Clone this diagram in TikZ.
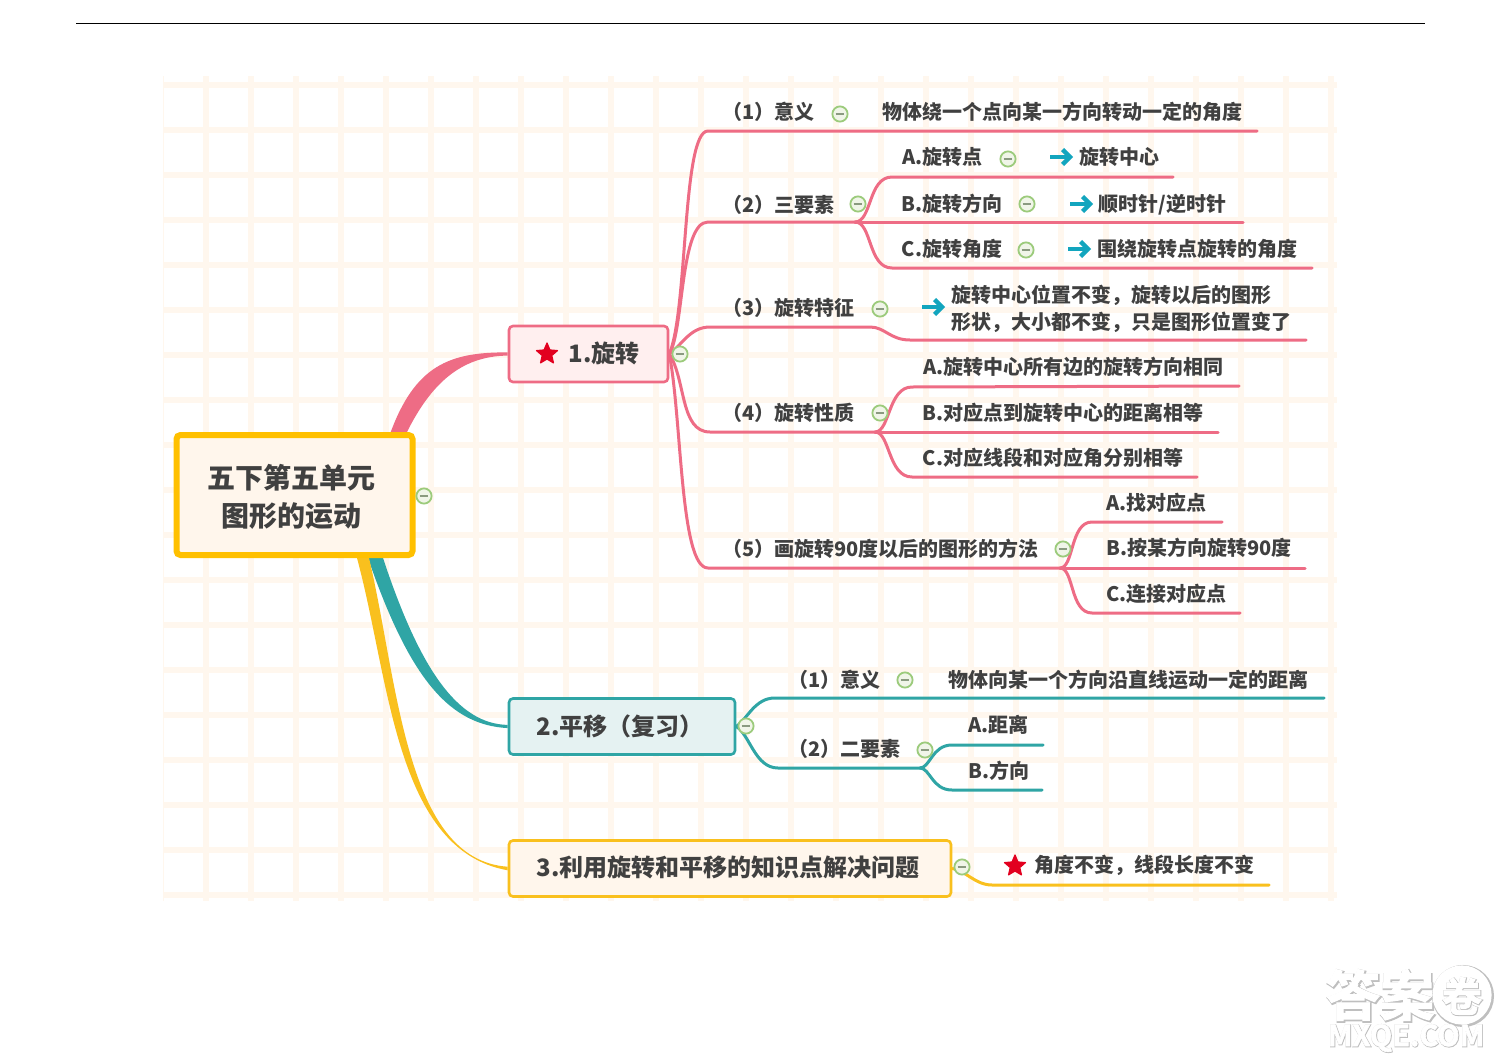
\documentclass[tikz,border=0pt]{standalone}
\usepackage{fontspec}
\setmainfont{Noto Sans CJK SC}
\newfontfamily\wmheavy[FakeBold=5]{Noto Sans CJK SC Bold}
\newfontfamily\wmlight[FakeBold=2]{Noto Sans CJK SC Bold}
\usetikzlibrary{shapes.geometric,calc}
\definecolor{cream}{HTML}{FFF7EE}
\definecolor{boxcream}{HTML}{FFF6EC}
\definecolor{ink}{HTML}{404040}
\definecolor{pinkc}{HTML}{EE6C85}
\definecolor{tealc}{HTML}{2FA5A5}
\definecolor{yellc}{HTML}{F9C01E}
\definecolor{rootc}{HTML}{FFC000}
\definecolor{arrowc}{HTML}{12A5BE}
\definecolor{starc}{HTML}{E2001F}
\definecolor{foldb}{HTML}{9CCB7C}
\definecolor{foldf}{HTML}{F0F5E8}
\definecolor{foldm}{HTML}{8A9A80}
\pgfdeclarelayer{conn}
\pgfsetlayers{conn,main}
\tikzset{
  leaf/.style={anchor=west,inner sep=0pt,text=ink,font=\fontsize{10pt}{13.5pt}\selectfont\bfseries},
  topic/.style={anchor=west,inner sep=0pt,text=ink,font=\fontsize{12pt}{15pt}\selectfont\bfseries},
  boxn/.style={draw,rounded corners=2pt,line width=1.3pt,inner sep=0pt},
  pinkl/.style={draw=pinkc,line width=1.5pt,line cap=round},
  teall/.style={draw=tealc,line width=1.5pt,line cap=round},
  yelll/.style={draw=yellc,line width=1.5pt,line cap=round},
  foldn/.style={circle,draw=foldb,fill=foldf,line width=.9pt,minimum size=7.6pt,inner sep=0pt,
    path picture={\draw[foldm,line width=.8pt] ([xshift=-2.2pt]path picture bounding box.center) -- ([xshift=2.2pt]path picture bounding box.center);}},
  starn/.style={star,star points=5,star point ratio=2.2,fill=starc,draw=starc,line join=round,line width=.6pt,minimum size=11pt,inner sep=0pt},
  arrowicon/.pic={
    \draw[arrowc,line width=2.1pt] (-11,0) -- (6,0);
    \draw[arrowc,line width=2.2pt] (1.5,-7.5) -- (9,0) -- (1.5,7.5);
  }
}
\begin{document}
\begin{tikzpicture}[x=0.5pt,y=-0.5pt]
\useasboundingbox (0,0) rectangle (1500,1060);
\begin{pgfonlayer}{conn}
  \fill[white] (0,0) rectangle (1500,1060);
  \begin{scope}
    \clip (163,76) rectangle (1337,901);
    \foreach \gx in {0,...,26} \draw[cream,line width=3.4pt] ({161+45*\gx},76) -- ({161+45*\gx},901);
    \foreach \gy in {0,...,18} \draw[cream,line width=3.4pt] (163,{85+45*\gy}) -- (1337,{85+45*\gy});
  \end{scope}
  \draw[black,line width=.8pt] (76,23.5) -- (1425,23.5);
\end{pgfonlayer}

% main boxes
\node[boxn,draw=rootc,fill=boxcream,line width=3pt,minimum width=118pt,minimum height=60pt] (root) at (294.5,495) {};
\node[inner sep=0pt,align=center,text=ink,font=\fontsize{14pt}{19pt}\selectfont\bfseries] (rootx) at (291.5,497) {五下第五单元\\图形的运动};
\node[boxn,draw=pinkc,fill=pink!25!white,minimum width=79.5pt,minimum height=28pt] (t1) at (588.5,354) {};
\node[boxn,draw=tealc,fill=teal!10!white,minimum width=113pt,minimum height=28pt] (t2) at (622,726.5) {};
\node[boxn,draw=yellc,fill=boxcream,minimum width=221pt,minimum height=28pt] (t3) at (730,868.5) {};
\node[starn] (s1) at (547,354) {};
\node[topic] (t1x) at (568,353) {1.旋转};
\node[topic] (t2x) at (536,726) {2.平移（复习）};
\node[topic] (t3x) at (536,867) {3.利用旋转和平移的知识点解决问题};

% folds
\node[foldn] (f0) at (424,496) {};
\node[foldn] (f1) at (680,354) {};
\node[foldn] (f11) at (840,114) {};
\node[foldn] (f12) at (858,204) {};
\node[foldn] (f12a) at (1008,159) {};
\node[foldn] (f12b) at (1027,204) {};
\node[foldn] (f12c) at (1026,250) {};
\node[foldn] (f13) at (880,309) {};
\node[foldn] (f14) at (880,413) {};
\node[foldn] (f15) at (1063,549) {};
\node[foldn] (f2) at (746,726) {};
\node[foldn] (f21) at (905,680) {};
\node[foldn] (f22) at (925,750) {};
\node[foldn] (f3) at (962,867) {};

% texts of branch 1
\node[leaf] (a1) at (722,112) {（1）意义};
\node[leaf] (a1x) at (882,112) {物体绕一个点向某一方向转动一定的角度};
\node[leaf] (a2) at (722,205) {（2）三要素};
\node[leaf] (a2a) at (902,157) {A.旋转点};
\node[leaf] (a2ax) at (1079,157) {旋转中心};
\node[leaf] (a2b) at (901.5,204) {B.旋转方向};
\node[leaf] (a2bx) at (1098,205) {顺时针/逆时针};
\node[leaf] (a2c) at (901.5,249) {C.旋转角度};
\node[leaf] (a2cx) at (1097,249) {围绕旋转点旋转的角度};
\node[leaf] (a3) at (722,308) {（3）旋转特征};
\node[leaf,align=left] (a3x) at (951,309) {旋转中心位置不变，旋转以后的图形\\形状，大小都不变，只是图形位置变了};
\node[leaf] (a4) at (722,413) {（4）旋转性质};
\node[leaf] (a4a) at (923,367) {A.旋转中心所有边的旋转方向相同};
\node[leaf] (a4b) at (922.5,413) {B.对应点到旋转中心的距离相等};
\node[leaf] (a4c) at (922.5,458) {C.对应线段和对应角分别相等};
\node[leaf] (a5) at (722,549) {（5）画旋转90度以后的图形的方法};
\node[leaf] (a5a) at (1106,503) {A.找对应点};
\node[leaf] (a5b) at (1106,548) {B.按某方向旋转90度};
\node[leaf] (a5c) at (1106,594) {C.连接对应点};
% branch 2
\node[leaf] (b1) at (788,680) {（1）意义};
\node[leaf] (b1x) at (948,680) {物体向某一个方向沿直线运动一定的距离};
\node[leaf] (b2) at (788,749) {（2）二要素};
\node[leaf] (b2a) at (968,725) {A.距离};
\node[leaf] (b2b) at (968,771) {B.方向};
% branch 3
\node[starn] (s3) at (1015,866) {};
\node[leaf] (c1) at (1034,865) {角度不变，线段长度不变};

% teal arrows
\pic at (1061,157) {arrowicon};
\pic at (1081,204) {arrowicon};
\pic at (1079,249) {arrowicon};
\pic at (933,307) {arrowicon};

% underline ends and forks
\coordinate (e1) at (1257,131);
\coordinate (j2) at (855,222);
\coordinate (e2a) at (1173,177);
\coordinate (e2b) at (1243,222);
\coordinate (e2c) at (1312,268);
\coordinate (e3) at (1306,340);
\coordinate (j4) at (875,432);
\coordinate (e4a) at (1239,386);
\coordinate (e4b) at (1218,432);
\coordinate (e4c) at (1197,477);
\coordinate (j5) at (1060,568);
\coordinate (e5a) at (1222,522);
\coordinate (e5b) at (1305,568);
\coordinate (e5c) at (1240,613);
\coordinate (e21) at (1324,698);
\coordinate (j22) at (920,768);
\coordinate (e22a) at (1043,745);
\coordinate (e22b) at (1042,790);
\coordinate (e3c) at (1269,885);

\begin{pgfonlayer}{conn}
  % tapered root branches
  \fill[pinkc] (390,434) .. controls (415,365) and (450,352) .. ([yshift=.8pt]t1.west)
     -- ([yshift=-.8pt]t1.west) .. controls (460,356) and (430,385) .. (406,434) -- cycle;
  \fill[tealc] (368,558) .. controls (410,680) and (450,725) .. ([yshift=-.8pt]t2.west)
     -- ([yshift=.8pt]t2.west) .. controls (458,724) and (420,670) .. (383,558) -- cycle;
  \fill[yellc] (357,558) .. controls (390,680) and (395,850) .. ([yshift=-.9pt]t3.west)
     -- ([yshift=.9pt]t3.west) .. controls (405,860) and (398,680) .. (369,558) -- cycle;
  % branch 1
  \draw[pinkl] (t1.east) .. controls (688,310) and (682,131) .. (708,131) -- (e1);
  \draw[pinkl] (t1.east) .. controls (684,330) and (680,222) .. (708,222) -- (j2);
  \draw[pinkl] (j2) .. controls (872,222) and (868,177) .. (892,177) -- (e2a);
  \draw[pinkl] (j2) -- (e2b);
  \draw[pinkl] (j2) .. controls (872,222) and (868,268) .. (892,268) -- (e2c);
  \draw[pinkl] (t1.east) .. controls (682,345) and (690,327) .. (710,327) -- (870,327) .. controls (885,327) and (890,340) .. (910,340) -- (e3);
  \draw[pinkl] (t1.east) .. controls (686,380) and (680,432) .. (710,432) -- (j4);
  \draw[pinkl] (j4) .. controls (890,432) and (888,387) .. (912,387) -- (e4a);
  \draw[pinkl] (j4) -- (e4b);
  \draw[pinkl] (j4) .. controls (890,432) and (888,477) .. (912,477) -- (e4c);
  \draw[pinkl] (t1.east) .. controls (682,420) and (680,568) .. (708,568) -- (j5);
  \draw[pinkl] (j5) .. controls (1074,568) and (1070,522) .. (1092,522) -- (e5a);
  \draw[pinkl] (j5) -- (e5b);
  \draw[pinkl] (j5) .. controls (1074,568) and (1070,613) .. (1092,613) -- (e5c);
  % branch 2
  \draw[teall] (t2.east) .. controls (748,718) and (755,698) .. (775,698) -- (e21);
  \draw[teall] (t2.east) .. controls (750,735) and (755,768) .. (778,768) -- (j22);
  \draw[teall] (j22) .. controls (930,768) and (932,745) .. (952,745) -- (e22a);
  \draw[teall] (j22) .. controls (930,768) and (932,790) .. (952,790) -- (e22b);
  % branch 3
  \draw[yelll] (t3.east) .. controls (965,870) and (975,885) .. (992,885) -- (e3c);
\end{pgfonlayer}

% watermark
\node[inner sep=0pt,text=black!25,font=\fontsize{27pt}{27pt}\wmheavy] (wm1s) at (1381,996) {答案};
\node[inner sep=0pt,text=white,font=\fontsize{27pt}{27pt}\wmlight] (wm1) at (1380,995) {答案};
\node[circle,draw=black!25,line width=4pt,minimum size=27pt,inner sep=0pt] (wm2s) at (1463,996) {};
\node[circle,draw=white,fill=white,line width=2.6pt,minimum size=27pt,inner sep=0pt] (wm2r) at (1462,995) {};
\node[inner sep=0pt,text=black!25,font=\fontsize{20pt}{20pt}\wmheavy] (wm4s) at (1462.5,996.5) {卷};
\node[inner sep=0pt,text=white,font=\fontsize{20pt}{20pt}\wmlight] (wm4) at (1462,996) {卷};
\node[inner sep=0pt,text=black!25,font=\fontsize{14.5pt}{15pt}\wmheavy] (wm3s) at (1406.5,1038.5) {MXQE.COM};
\node[inner sep=0pt,text=white,font=\fontsize{14.5pt}{15pt}\wmlight] (wm3) at (1406,1038) {MXQE.COM};
\end{tikzpicture}
\end{document}
